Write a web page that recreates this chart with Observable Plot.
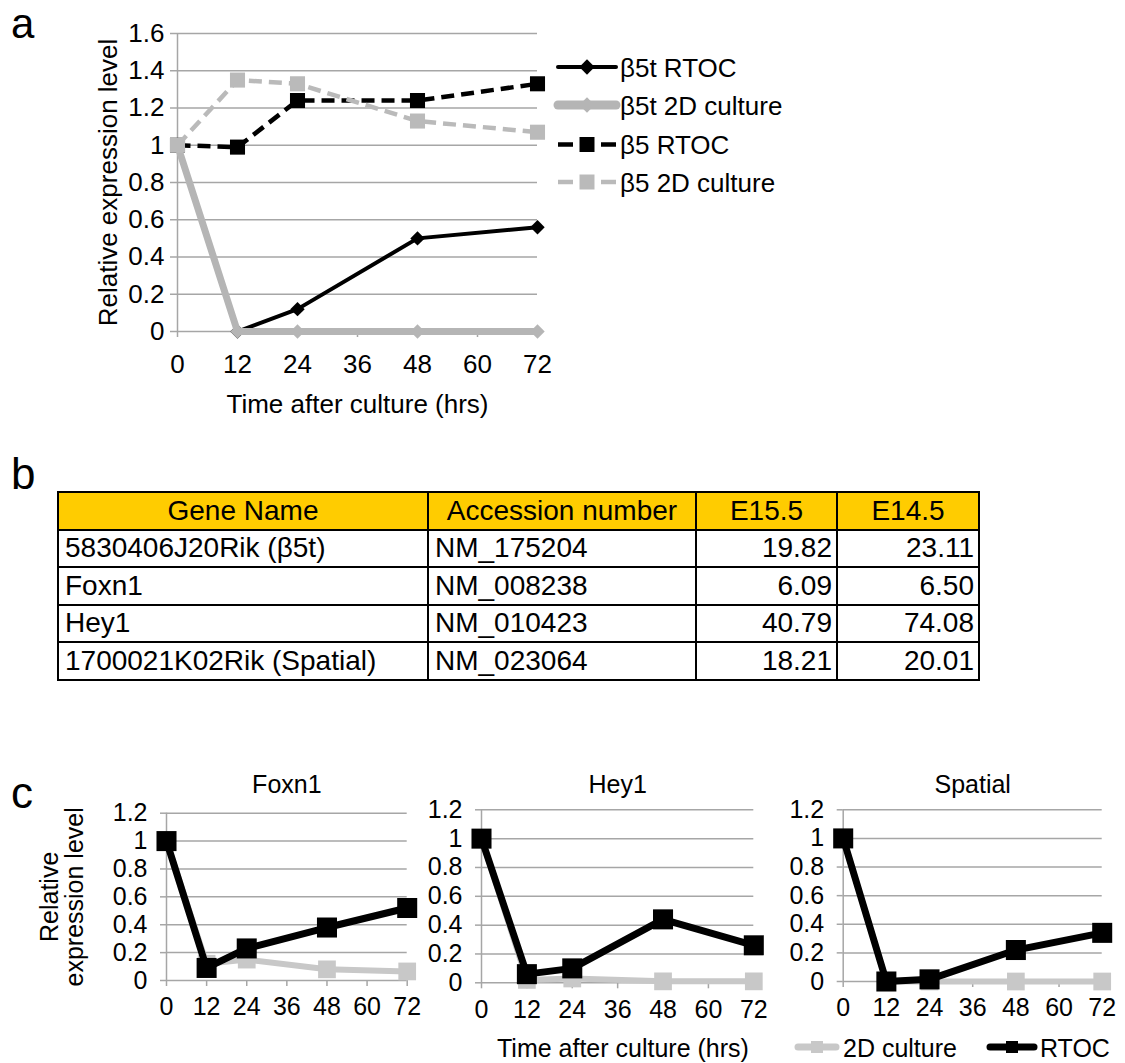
<!DOCTYPE html>
<html><head><meta charset="utf-8">
<script src="https://cdn.jsdelivr.net/npm/d3@7"></script>
<script src="https://cdn.jsdelivr.net/npm/@observablehq/plot@0.6"></script>
<style>
html,body{margin:0;padding:0;background:#fff;}
#root{position:relative;width:1125px;height:1063px;font-family:"Liberation Sans",Arial,sans-serif;color:#000;overflow:hidden;}
#tbl{position:absolute;left:57px;top:491px;border-collapse:collapse;table-layout:fixed;font-size:28px;width:921px;}
#tbl td{border:2px solid #000;padding:0 6px;line-height:1;white-space:nowrap;overflow:hidden;vertical-align:middle;}
#tbl tr{height:37.5px;}
#tbl tr.head td{background:#ffcc00;text-align:center;}
#tbl td.num{text-align:right;padding-right:4px;}
</style></head><body><div id="root"></div>
<script>
// ---------- data ----------
const hours = [0, 12, 24, 48, 72];
const xTicks = [0, 12, 24, 36, 48, 60, 72];
const yTicksA = [0, 0.2, 0.4, 0.6, 0.8, 1, 1.2, 1.4, 1.6];
const yTicksC = [0, 0.2, 0.4, 0.6, 0.8, 1, 1.2];

const b5tRTOC = [1, 0, 0.12, 0.50, 0.56];
const b5t2D   = [1, 0, 0, 0, 0];
const b5RTOC  = [1, 0.99, 1.24, 1.24, 1.33];
const b52D    = [1, 1.35, 1.33, 1.13, 1.07];

const foxn1RTOC   = [1, 0.09, 0.23, 0.38, 0.52];
const foxn12D     = [1, 0.12, 0.15, 0.08, 0.065];
const hey1RTOC    = [1, 0.06, 0.10, 0.44, 0.26];
const hey12D      = [1, 0.02, 0.03, 0.01, 0.01];
const spatialRTOC = [1, 0, 0.015, 0.22, 0.34];
const spatial2D   = [1, 0, 0, 0, 0];

const tableHeader = ["Gene Name", "Accession number", "E15.5", "E14.5"];
const geneNames   = ["5830406J20Rik (β5t)", "Foxn1", "Hey1", "1700021K02Rik (Spatial)"];
const accessions  = ["NM_175204", "NM_008238", "NM_010423", "NM_023064"];
const e155        = ["19.82", "6.09", "40.79", "18.21"];
const e145        = ["23.11", "6.50", "74.08", "20.01"];

// ---------- styles ----------
const FONT = '"Liberation Sans", Arial, sans-serif';
const GRID = "#a6a6a6";
const fmt = d => String(+d.toFixed(1));
const root = document.getElementById("root");

function place(el, left, top) {
  el.style.position = "absolute";
  el.style.left = left + "px";
  el.style.top = top + "px";
  root.appendChild(el);
}

function seriesMarks(s) {
  const rows = hours.map((h, i) => ({h, v: s.values[i]}));
  return [
    Plot.line(rows, {x: "h", y: "v", stroke: s.color, strokeWidth: s.width,
      strokeDasharray: s.dash, strokeLinejoin: "miter", strokeLinecap: "butt"}),
    Plot.dot(rows, {x: "h", y: "v", symbol: s.symbol, r: s.r, fill: s.color, stroke: "none"})
  ];
}

// ---------- panel a ----------
const seriesA = [
  {name: "β5t RTOC", values: b5tRTOC, color: "#000", width: 4, dash: null, symbol: "diamond2", r: 6.5},
  {name: "β5 RTOC", values: b5RTOC, color: "#000", width: 4.5, dash: "13,7", symbol: "square", r: 8.5},
  {name: "β5t 2D culture", values: b5t2D, color: "#b5b5b5", width: 7, dash: null, symbol: "diamond2", r: 6.5},
  {name: "β5 2D culture", values: b52D, color: "#bababa", width: 4.5, dash: "13,7", symbol: "square", r: 8.5}
];

const plotA = Plot.plot({
  width: 560, height: 420,
  marginLeft: 177, marginRight: 23, marginTop: 33, marginBottom: 89,
  x: {domain: [0, 72]},
  y: {domain: [0, 1.6]},
  style: {fontFamily: FONT, fontSize: "26px", color: "#000", background: "transparent", overflow: "visible"},
  marks: [
    Plot.gridY({ticks: yTicksA, stroke: GRID, strokeOpacity: 1, strokeWidth: 1.5}),
    Plot.ruleX([0], {stroke: GRID, strokeWidth: 1.5}),
    Plot.axisY({ticks: yTicksA, tickSize: 7, tickPadding: 6, stroke: GRID, strokeOpacity: 1, strokeWidth: 1.5,
      tickFormat: fmt, label: "Relative expression level", labelAnchor: "center", labelOffset: 79, labelArrow: "none"}),
    Plot.axisX({ticks: xTicks, tickSize: 6, tickPadding: 17, stroke: GRID, strokeOpacity: 1, strokeWidth: 1.5,
      tickFormat: d => String(d), label: "Time after culture (hrs)", labelAnchor: "center", labelOffset: 81, labelArrow: "none"}),
    ...seriesA.flatMap(seriesMarks)
  ]
});
place(plotA, 0, 0);

// ---------- panel c ----------
const smallCharts = [
  {title: "Foxn1", rtoc: foxn1RTOC, d2: foxn12D, left: 0, width: 422, mL: 166, mR: 15.3, mT: 52.7, mB: 50,
   ylabel: "Relative\nexpression level"},
  {title: "Hey1", rtoc: hey1RTOC, d2: hey12D, left: 430, width: 340, mL: 51, mR: 16.7, mT: 49.3, mB: 47.7, ylabel: null},
  {title: "Spatial", rtoc: spatialRTOC, d2: spatial2D, left: 790, width: 335, mL: 52.7, mR: 23.3, mT: 49.3, mB: 49, ylabel: null}
];
const CTOP = 760, CHEIGHT = 270;

for (const c of smallCharts) {
  const sD = {values: c.d2, color: "#c8c8c8", width: 6, dash: null, symbol: "square", r: 10};
  const sR = {values: c.rtoc, color: "#000", width: 7, dash: null, symbol: "square", r: 11.3};
  const titleDy = (792 - 8) - (CTOP + c.mT);
  const p = Plot.plot({
    width: c.width, height: CHEIGHT,
    marginLeft: c.mL, marginRight: c.mR, marginTop: c.mT, marginBottom: c.mB,
    x: {domain: [0, 72]},
    y: {domain: [0, 1.2]},
    style: {fontFamily: FONT, fontSize: "25px", color: "#000", background: "transparent", overflow: "visible"},
    marks: [
      Plot.gridY({ticks: yTicksC, stroke: GRID, strokeOpacity: 1, strokeWidth: 1.5}),
      Plot.ruleX([0], {stroke: GRID, strokeWidth: 1.5}),
      Plot.axisY({ticks: yTicksC, tickSize: 6, tickPadding: 13, stroke: GRID, strokeOpacity: 1, strokeWidth: 1.5,
        tickFormat: fmt, label: c.ylabel, labelAnchor: "center", labelOffset: 126, labelArrow: "none"}),
      Plot.axisX({ticks: xTicks, tickSize: 6, tickPadding: 11, stroke: GRID, strokeOpacity: 1, strokeWidth: 1.5,
        tickFormat: d => String(d), label: null}),
      Plot.text([c.title], {frameAnchor: "top", dy: titleDy, lineAnchor: "middle", fontSize: 25, fill: "#000"}),
      ...seriesMarks(sD),
      ...seriesMarks(sR)
    ]
  });
  place(p, c.left, CTOP);
}

// ---------- table (panel b) ----------
const tbl = document.createElement("table");
tbl.id = "tbl";
const cg = document.createElement("colgroup");
for (const w of [370, 268, 141, 142]) { const col = document.createElement("col"); col.style.width = w + "px"; cg.appendChild(col); }
tbl.appendChild(cg);
const hr = document.createElement("tr"); hr.className = "head";
for (const h of tableHeader) { const td = document.createElement("td"); td.textContent = h; hr.appendChild(td); }
tbl.appendChild(hr);
geneNames.forEach((g, i) => {
  const tr = document.createElement("tr");
  [[g, ""], [accessions[i], ""], [e155[i], "num"], [e145[i], "num"]].forEach(([t, cls]) => {
    const td = document.createElement("td"); td.textContent = t; if (cls) td.className = cls; tr.appendChild(td);
  });
  tbl.appendChild(tr);
});
root.appendChild(tbl);

// ---------- overlay: panel letters and legends ----------
const ov = d3.select(root).append("svg")
  .attr("width", 1125).attr("height", 1063)
  .style("position", "absolute").style("left", "0px").style("top", "0px")
  .style("font-family", FONT).style("pointer-events", "none");

ov.append("text").attr("x", 11).attr("y", 38).attr("font-size", 42).text("a");
ov.append("text").attr("x", 11).attr("y", 489).attr("font-size", 44).text("b");
ov.append("text").attr("x", 11).attr("y", 808).attr("font-size", 44).text("c");

// legend a
const legA = [
  {label: "β5t RTOC", color: "#000", width: 4, dashed: false, symbol: d3.symbolDiamond2, size: 150, cy: 67},
  {label: "β5t 2D culture", color: "#b5b5b5", width: 9, dashed: false, symbol: d3.symbolDiamond2, size: 150, cy: 105},
  {label: "β5 RTOC", color: "#000", width: 4.5, dashed: true, symbol: d3.symbolSquare, size: 225, cy: 144.5},
  {label: "β5 2D culture", color: "#bababa", width: 4.5, dashed: true, symbol: d3.symbolSquare, size: 225, cy: 182}
];
for (const L of legA) {
  const g = ov.append("g");
  if (L.dashed) {
    g.append("line").attr("x1", 558).attr("x2", 573).attr("y1", L.cy).attr("y2", L.cy).attr("stroke", L.color).attr("stroke-width", L.width);
    g.append("line").attr("x1", 601).attr("x2", 616).attr("y1", L.cy).attr("y2", L.cy).attr("stroke", L.color).attr("stroke-width", L.width);
  } else {
    g.append("line").attr("x1", 558).attr("x2", 616).attr("y1", L.cy).attr("y2", L.cy).attr("stroke", L.color).attr("stroke-width", L.width).attr("stroke-linecap", "round");
  }
  g.append("path").attr("d", d3.symbol(L.symbol, L.size)()).attr("transform", `translate(587,${L.cy})`).attr("fill", L.color);
  g.append("text").attr("x", 620).attr("y", L.cy + 9.5).attr("font-size", 26).text(L.label);
}

// bottom row of panel c: axis title and legend
ov.append("text").attr("x", 497).attr("y", 1057).attr("font-size", 25).text("Time after culture (hrs)");
const legC = [
  {label: "2D culture", color: "#c8c8c8", x1: 798, x2: 836, tx: 843},
  {label: "RTOC", color: "#000", x1: 990, x2: 1034, tx: 1040}
];
for (const L of legC) {
  ov.append("line").attr("x1", L.x1).attr("x2", L.x2).attr("y1", 1047).attr("y2", 1047).attr("stroke", L.color).attr("stroke-width", 7).attr("stroke-linecap", "round");
  ov.append("rect").attr("x", (L.x1 + L.x2) / 2 - 6).attr("y", 1047 - 6).attr("width", 12).attr("height", 12).attr("fill", L.color);
  ov.append("text").attr("x", L.tx).attr("y", 1057).attr("font-size", 25).text(L.label);
}
</script></body></html>
